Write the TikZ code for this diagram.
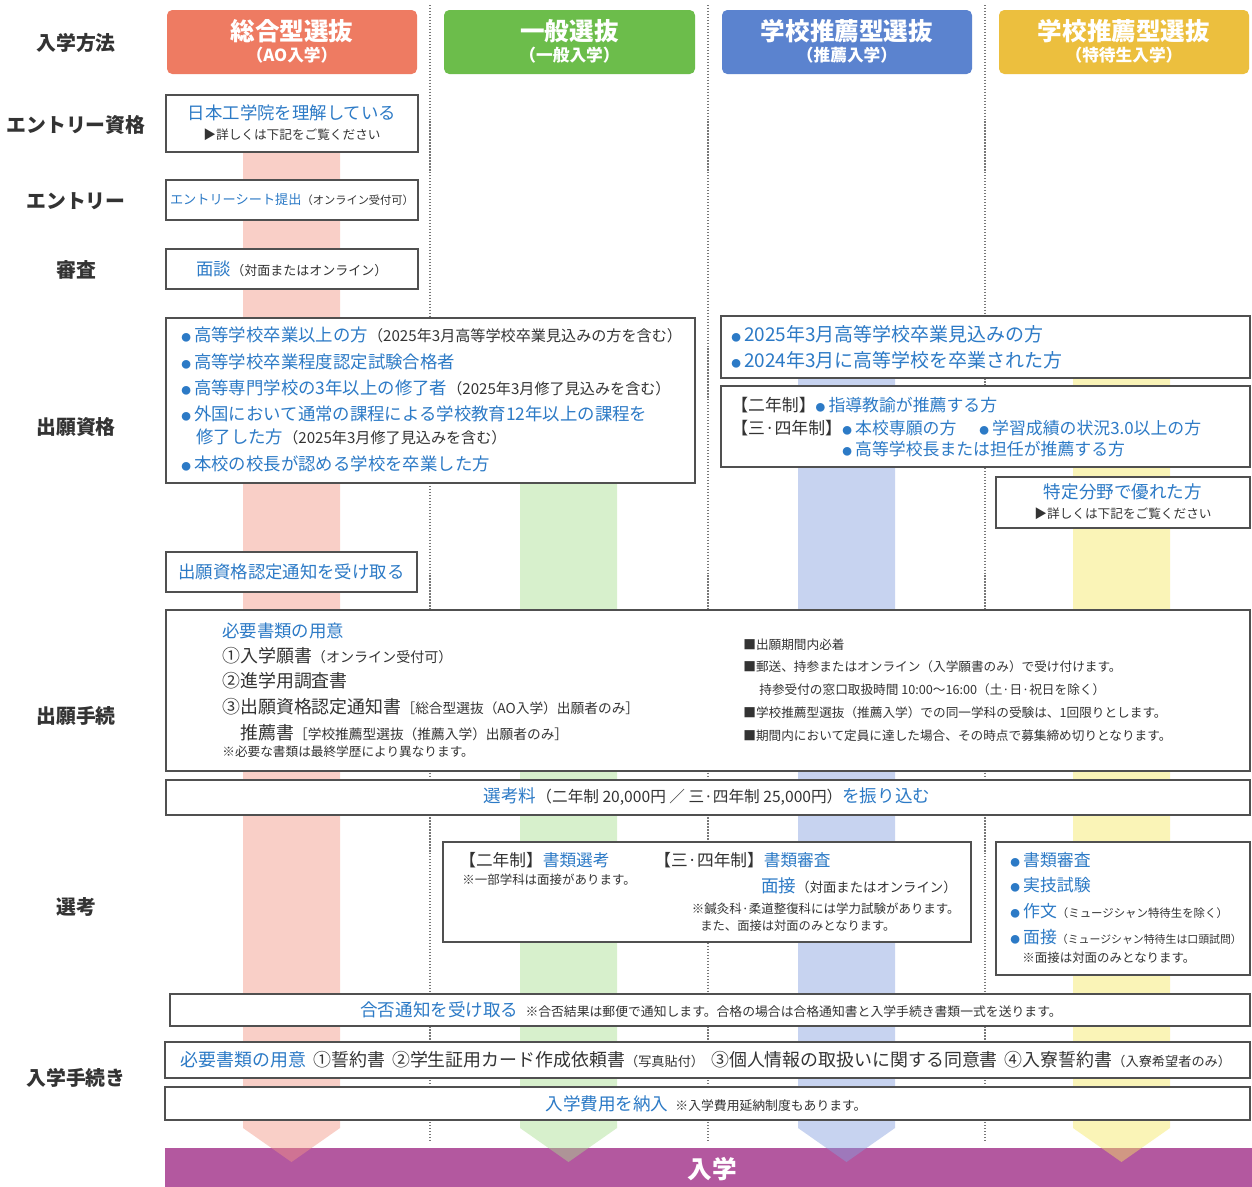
\documentclass[tikz,border=0pt]{standalone}
\usepackage{fontspec}
\setmainfont{Noto Sans CJK JP}
\usepackage{tikz}
\usetikzlibrary{positioning}
\usetikzlibrary{fit}
\definecolor{hdrred}{HTML}{EE7B62}
\definecolor{hdrgreen}{HTML}{6CBD4B}
\definecolor{hdrblue}{HTML}{5B83CF}
\definecolor{hdryellow}{HTML}{ECBF3E}
\definecolor{bandred}{HTML}{F29685}
\definecolor{bandgreen}{HTML}{A8DE8E}
\definecolor{bandblue}{HTML}{859FDE}
\definecolor{bandyellow}{HTML}{F6E761}
\definecolor{entrance}{HTML}{B3589F}
\definecolor{txtblue}{HTML}{2C7AC6}
\definecolor{txtdark}{HTML}{333333}
\definecolor{boxline}{HTML}{505050}
\definecolor{sepgray}{HTML}{777777}
\newcommand{\fsz}[1]{\fontsize{#1}{#1}\selectfont}
\newcommand{\blu}[1]{\textcolor{txtblue}{#1}}
\newcommand{\subtxt}[2]{{\fsz{#1}#2}}
\newcommand{\bul}{{\fsz{5.5}\textcolor{txtblue}{●}}\hspace{1.8pt}}

\begin{document}
\begin{tikzpicture}[x=0.02cm, y=-0.02cm,
        lbl/.style={font=\bfseries\fsz{11.3}, text=txtdark},
        hdr/.style={rounded corners=3pt, inner sep=0pt},
        hdrtitle/.style={font=\bfseries\fsz{14}, text=white},
        hdrsub/.style={font=\bfseries\fsz{9.5}, text=white},
        flowbox/.style={draw=boxline, line width=0.85pt, fill=white, inner sep=0pt},
        bodytxt/.style={font=\fsz{9.9}, text=txtdark, inner sep=0pt},
        notetxt/.style={font=\fsz{7.2}, text=txtdark, inner sep=0pt},
        colband/.style={opacity=0.45},
        sepline/.style={draw=sepgray, densely dotted, line width=0.7pt}]
            \useasboundingbox (0,0) rectangle (1252,1187);
            \fill[white] (0,0) rectangle (1252,1187);

            % entrance bar and column bands
            \node[fill=entrance, inner sep=0pt, fit={(165,1148) (1252,1187)}] (goal) {};
            \fill[bandred, colband] (243,100) -- (340,100) -- (340,1128) -- (291.5,1162) -- (243,1128) -- cycle;
            \fill[bandgreen, colband] (520,320) -- (617,320) -- (617,1128) -- (568.5,1162) -- (520,1128) -- cycle;
            \fill[bandblue, colband] (798,320) -- (895,320) -- (895,1128) -- (846.5,1162) -- (798,1128) -- cycle;
            \fill[bandyellow, colband] (1073,320) -- (1170,320) -- (1170,1128) -- (1121.5,1162) -- (1073,1128) -- cycle;
            \node[font=\bfseries\fsz{14}, text=white] (goaltxt) at (712,1169) {入学};

            \draw[sepline] (430,5) -- (430,1142);
            \draw[sepline] (708,5) -- (708,1142);
            \draw[sepline] (985,5) -- (985,1142);

            % row labels
            \node[lbl] (m1) at (76,43) {入学方法};
            \node[lbl] (m2) at (76,125) {エントリー資格};
            \node[lbl] (m3) at (76,201) {エントリー};
            \node[lbl] (m4) at (76,270) {審査};
            \node[lbl] (m5) at (76,427) {出願資格};
            \node[lbl] (m6) at (76,716) {出願手続};
            \node[lbl] (m7) at (76,907) {選考};
            \node[lbl] (m8) at (76,1078) {入学手続き};

            % headers
            \node[hdr, fill=hdrred, fit={(167,10) (417,74)}] (hd1) {};
            \node[hdrtitle] (hd1t) at (292,31) {総合型選抜};
            \node[hdrsub] (hd1s) at (292,55) {（AO入学）};
            \node[hdr, fill=hdrgreen, fit={(444,10) (695,74)}] (hd2) {};
            \node[hdrtitle] (hd2t) at (569.5,31) {一般選抜};
            \node[hdrsub] (hd2s) at (569.5,55) {（一般入学）};
            \node[hdr, fill=hdrblue, fit={(722,10) (972,74)}] (hd3) {};
            \node[hdrtitle] (hd3t) at (847,31) {学校推薦型選抜};
            \node[hdrsub] (hd3s) at (847,55) {（推薦入学）};
            \node[hdr, fill=hdryellow, fit={(999,10) (1249,74)}] (hd4) {};
            \node[hdrtitle] (hd4t) at (1124,31) {学校推薦型選抜};
            \node[hdrsub] (hd4s) at (1124,55) {（特待生入学）};

            % entry, screening
            \node[flowbox, fit={(166,95) (418,152)}] (ent1) {};
            \node[bodytxt] (ent1a) at (292,113) {\blu{日本工学院を理解している}};
            \node[notetxt] (ent1b) at (292,135) {▶詳しくは下記をご覧ください};
            \node[flowbox, fit={(166,180) (418,220)}] (ent2) {};
            \node[bodytxt] (ent2a) at (292,200) {\subtxt{7.5}{\blu{エントリーシート提出}}\subtxt{6.4}{（オンライン受付可）}};
            \node[flowbox, fit={(166,249) (418,289)}] (ent3) {};
            \node[bodytxt] (ent3a) at (292,269) {\blu{面談}\subtxt{7.4}{（対面またはオンライン）}};

            % qualification
            \node[flowbox, fit={(166,318) (695,483)}] (qa) {};
            \node[bodytxt, anchor=west] (qa1) at (181,335) {\bul\blu{高等学校卒業以上の方}\subtxt{8.6}{（2025年3月高等学校卒業見込みの方を含む）}};
            \node[bodytxt, anchor=west] (qa2) at (181,362) {\bul\blu{高等学校卒業程度認定試験合格者}};
            \node[bodytxt, anchor=west] (qa3) at (181,388) {\bul\blu{高等専門学校の3年以上の修了者}\subtxt{8.6}{（2025年3月修了見込みを含む）}};
            \node[bodytxt, anchor=west] (qa4) at (181,414) {\bul\blu{外国において通常の課程による学校教育12年以上の課程を}};
            \node[bodytxt, anchor=west] (qa5) at (196,437) {\blu{修了した方}\subtxt{8.6}{（2025年3月修了見込みを含む）}};
            \node[bodytxt, anchor=west] (qa6) at (181,464) {\bul\blu{本校の校長が認める学校を卒業した方}};

            \node[flowbox, fit={(721,316) (1250,378)}] (qb) {};
            \node[bodytxt, font=\fsz{10.8}, anchor=west] (qb1) at (731,334) {\bul\blu{2025年3月高等学校卒業見込みの方}};
            \node[bodytxt, font=\fsz{10.8}, anchor=west] (qb2) at (731,360) {\bul\blu{2024年3月に高等学校を卒業された方}};

            \node[flowbox, fit={(721,386) (1250,467)}] (qc) {};
            \node[bodytxt, font=\fsz{9.6}, anchor=west] (qc1) at (731,405) {【二年制】\bul\blu{指導教諭が推薦する方}};
            \node[bodytxt, font=\fsz{9.6}, anchor=west] (qc3) at (731,428) {【三·四年制】};
            \node[bodytxt, font=\fsz{9.6}, anchor=west] (qc4) at (842,428) {\bul\blu{本校専願の方}};
            \node[bodytxt, font=\fsz{9.6}, anchor=west] (qc5) at (979,428) {\bul\blu{学習成績の状況3.0以上の方}};
            \node[bodytxt, font=\fsz{9.6}, anchor=west] (qc6) at (842,449) {\bul\blu{高等学校長または担任が推薦する方}};

            \node[flowbox, fit={(996,477) (1250,528)}] (qd) {};
            \node[bodytxt, font=\fsz{10}] (qd1) at (1123,492) {\blu{特定分野で優れた方}};
            \node[notetxt] (qd2) at (1123,514) {▶詳しくは下記をご覧ください};

            \node[flowbox, fit={(166,552) (417,592)}] (qe) {};
            \node[bodytxt] (qe1) at (291.5,572) {\blu{出願資格認定通知を受け取る}};

            % application
            \node[flowbox, fit={(166,610) (1250,771)}] (ap) {};
            \node[bodytxt, anchor=west] (ap1) at (222,631) {\blu{必要書類の用意}};
            \node[bodytxt, font=\fsz{10.2}, anchor=west] (ap2) at (222,656) {①入学願書\subtxt{8}{（オンライン受付可）}};
            \node[bodytxt, font=\fsz{10.2}, anchor=west] (ap3) at (222,681) {②進学用調査書};
            \node[bodytxt, font=\fsz{10.2}, anchor=west] (ap4) at (222,707) {③出願資格認定通知書\subtxt{7.8}{［総合型選抜（AO入学）出願者のみ］}};
            \node[bodytxt, font=\fsz{10.2}, anchor=west] (ap5) at (240,733) {推薦書\subtxt{7.8}{［学校推薦型選抜（推薦入学）出願者のみ］}};
            \node[notetxt, anchor=west] (ap6) at (222,752) {※必要な書類は最終学歴により異なります。};
            \node[notetxt, anchor=west] (ap7) at (743,645) {■出願期間内必着};
            \node[notetxt, anchor=west] (ap8) at (743,667) {■郵送、持参またはオンライン（入学願書のみ）で受け付けます。};
            \node[notetxt, anchor=west] (ap9) at (759,690) {持参受付の窓口取扱時間 10:00〜16:00（土·日·祝日を除く）};
            \node[notetxt, anchor=west] (ap10) at (743,713) {■学校推薦型選抜（推薦入学）での同一学科の受験は、1回限りとします。};
            \node[notetxt, anchor=west] (ap11) at (743,736) {■期間内において定員に達した場合、その時点で募集締め切りとなります。};

            \node[flowbox, fit={(166,780) (1250,815)}] (fee) {};
            \node[bodytxt, font=\fsz{10}] (fee1) at (707,797) {\blu{選考料}\subtxt{8.9}{（二年制 20,000円 ／ 三·四年制 25,000円）}\blu{を振り込む}};

            % selection
            \node[flowbox, fit={(443,842) (971,942)}] (sa) {};
            \node[bodytxt, font=\fsz{9.5}, anchor=west] (sa1) at (459,860) {【二年制】\blu{書類選考}};
            \node[notetxt, font=\fsz{7.1}, anchor=west] (sa2) at (462,880) {※一部学科は面接があります。};
            \node[bodytxt, font=\fsz{9.5}, anchor=west] (sa3) at (654,860) {【三·四年制】\blu{書類審査}};
            \node[bodytxt, font=\fsz{10}, anchor=east] (sa4) at (957,886) {\blu{面接}\subtxt{7.6}{（対面またはオンライン）}};
            \node[notetxt, font=\fsz{7.1}, anchor=east] (sa5) at (960,909) {※鍼灸科·柔道整復科には学力試験があります。};
            \node[notetxt, font=\fsz{7}, anchor=west] (sa6) at (700,926) {また、面接は対面のみとなります。};

            \node[flowbox, fit={(996,842) (1250,975)}] (sb) {};
            \node[bodytxt, font=\fsz{9.6}, anchor=west] (sb1) at (1010,860) {\bul\blu{書類審査}};
            \node[bodytxt, font=\fsz{9.6}, anchor=west] (sb2) at (1010,885) {\bul\blu{実技試験}};
            \node[bodytxt, font=\fsz{9.6}, anchor=west] (sb3) at (1010,911) {\bul\blu{作文}\subtxt{6.5}{（ミュージシャン特待生を除く）}};
            \node[bodytxt, font=\fsz{9.6}, anchor=west] (sb4) at (1010,937) {\bul\blu{面接}\subtxt{6.2}{（ミュージシャン特待生は口頭試問）}};
            \node[notetxt, font=\fsz{7.1}, anchor=west] (sb5) at (1022,958) {※面接は対面のみとなります。};

            \node[flowbox, fit={(170,994) (1250,1026)}] (res) {};
            \node[bodytxt, font=\fsz{10}] (res1) at (711,1010) {\blu{合否通知を受け取る}\hspace{4pt}\subtxt{7.3}{※合否結果は郵便で通知します。合格の場合は合格通知書と入学手続き書類一式を送ります。}};

            % enrolment
            \node[flowbox, fit={(165,1042) (1250,1078)}] (en1) {};
            \node[bodytxt, font=\fsz{10.2}] (en1a) at (706,1060) {\blu{必要書類の用意}\hspace{4pt}①誓約書\hspace{4pt}②学生証用カード作成依頼書\subtxt{7.5}{（写真貼付）}\hspace{4pt}③個人情報の取扱いに関する同意書\hspace{4pt}④入寮誓約書\subtxt{7.5}{（入寮希望者のみ）}};
            \node[flowbox, fit={(165,1087) (1250,1120)}] (en2) {};
            \node[bodytxt, font=\fsz{10}] (en2a) at (706,1104) {\blu{入学費用を納入}\hspace{4pt}\subtxt{7.3}{※入学費用延納制度もあります。}};
        \end{tikzpicture}
\end{document}
